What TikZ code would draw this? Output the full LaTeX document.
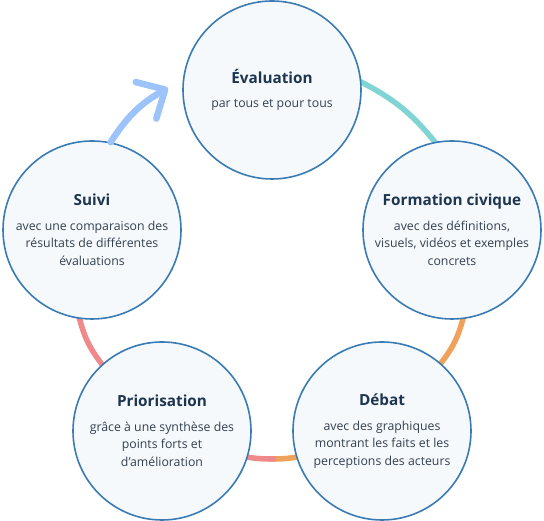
\documentclass[tikz,border=0pt]{standalone}
\usepackage{fontspec}
\setmainfont{Open Sans}
\usetikzlibrary{arrows.meta}

\definecolor{ringline}{HTML}{3B7BB3}
\definecolor{ringfill}{HTML}{F5F9FC}
\definecolor{titlecol}{HTML}{1E3550}
\definecolor{bodycol}{HTML}{34404F}
\definecolor{tealarc}{HTML}{80D4D4}
\definecolor{orangearc}{HTML}{F0A25A}
\definecolor{pinkarc}{HTML}{F08A8A}
\definecolor{bluearc}{HTML}{9CC4FA}

\pgfdeclarelayer{bg}
\pgfsetlayers{bg,main}

\tikzset{
  stage/.style={circle,draw=ringline,fill=ringfill,line width=1.6pt,
    minimum size=178pt,inner sep=0pt,align=center,text=bodycol,
    font=\fontsize{12.3}{17.5}\selectfont},
  link/.style={line width=5.5pt,shorten <=-4pt,shorten >=-4pt},
}
\newcommand{\stagetitle}[1]{{\fontsize{15.3}{17}\selectfont\bfseries\color{titlecol}#1}\\[7pt]}

\begin{document}
\begin{tikzpicture}[x=1pt,y=1pt,line cap=round,line join=round]
\useasboundingbox (0,0) rectangle (544,521);

% --- the five stages ---
\node[stage] (eval)  at (272,431) {\stagetitle{Évaluation}par tous et pour tous};
\node[stage] (form)  at (452,291) {\stagetitle{Formation civique}avec des définitions,\\visuels, vidéos et exemples\\concrets};
\node[stage] (debat) at (382,90)  {\stagetitle{Débat}avec des graphiques\\montrant les faits et les\\perceptions des acteurs};
\node[stage] (prio)  at (162,90)  {\stagetitle{Priorisation}grâce à une synthèse des\\points forts et\\d’amélioration};
\node[stage] (suivi) at (92,291)  {\stagetitle{Suivi}avec une comparaison des\\résultats de différentes\\évaluations};

% --- ring between the stages ---
\coordinate (mid) at (272,62);
\coordinate (tip) at (168,433);

\begin{pgfonlayer}{bg}
\draw[link,tealarc]   (eval.5)    to[bend left=12] (form.101);
\draw[link,orangearc] (form.-83)  to[bend left=12] (debat.49);
\draw[link,orangearc] (debat.197) to[bend left=5]  (mid);
\draw[link,pinkarc]   (mid)       to[bend left=5]  (prio.-17);
\draw[link,pinkarc]   (prio.132)  to[bend left=12] (suivi.-98);
\end{pgfonlayer}

% arrow back to the start
\draw[line width=6.5pt,bluearc,-{Straight Barb[length=22pt,width=42pt,round]}]
  (suivi.78) to[bend left=14] (tip);
\end{tikzpicture}
\end{document}
